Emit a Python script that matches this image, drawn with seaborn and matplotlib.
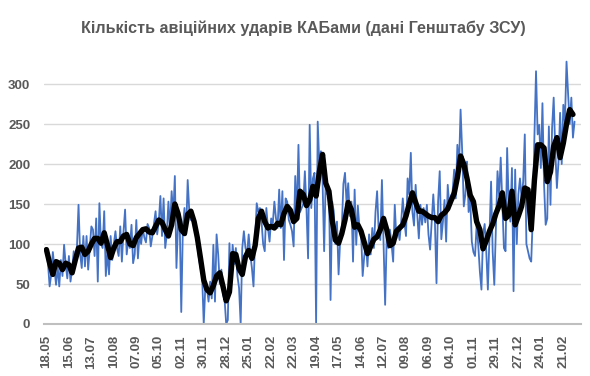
import pandas as pd
import matplotlib
matplotlib.use("Agg")
import matplotlib.pyplot as plt
import matplotlib.dates as mdates
import seaborn as sns

title = "Кількість авіційних ударів КАБами (дані Генштабу ЗСУ)"
start = pd.Timestamp("2024-05-18")

# daily KAB strikes, every 2nd day
strikes = [
    95, 75, 47, 62, 90, 70, 49, 72, 47, 80, 60, 99, 75, 57, 85, 53, 68, 91, 75, 95,
    149, 88, 70, 110, 72, 110, 68, 95, 122, 118, 85, 132, 53, 151, 100, 95, 141, 60, 90, 62,
    110, 80, 100, 116, 95, 85, 122, 78, 115, 143, 87, 105, 95, 124, 76, 87, 130, 82, 112, 100,
    120, 108, 102, 125, 120, 97, 110, 125, 141, 112, 128, 160, 110, 157, 95, 112, 153, 118, 166, 135,
    185, 70, 125, 132, 15, 120, 145, 112, 180, 141, 130, 137, 118, 125, 99, 82, 70, 60, 0, 47,
    45, 28, 53, 32, 99, 28, 112, 87, 50, 68, 37, 30, 0, 5, 101, 45, 99, 75, 95, 60,
    45, 0, 95, 116, 95, 87, 112, 87, 70, 47, 105, 151, 140, 145, 128, 100, 91, 145, 120, 103,
    132, 125, 153, 132, 120, 168, 120, 166, 80, 157, 153, 130, 124, 116, 97, 185, 135, 224, 140, 145,
    150, 191, 145, 82, 249, 145, 182, 189, 0, 253, 199, 216, 180, 91, 182, 162, 170, 30, 153, 141,
    100, 128, 62, 105, 120, 175, 189, 150, 176, 135, 153, 78, 168, 99, 148, 120, 115, 60, 85, 102,
    72, 112, 87, 120, 95, 140, 166, 115, 105, 180, 103, 24, 110, 95, 118, 100, 78, 149, 107, 120,
    105, 128, 157, 128, 110, 182, 162, 214, 140, 123, 174, 137, 107, 149, 124, 145, 127, 149, 112, 93,
    128, 162, 128, 51, 153, 191, 106, 128, 155, 103, 174, 145, 160, 165, 193, 157, 224, 195, 268, 216,
    147, 162, 203, 140, 157, 103, 90, 85, 124, 99, 66, 43, 112, 125, 91, 43, 112, 178, 90, 49,
    120, 191, 160, 208, 150, 95, 91, 220, 150, 128, 195, 41, 193, 100, 162, 182, 157, 178, 237, 100,
    91, 82, 78, 135, 235, 316, 237, 249, 195, 276, 175, 124, 132, 247, 149, 245, 283, 216, 170, 203,
    264, 200, 274, 253, 328, 287, 250, 283, 233, 253,
]

# thick black moving-average line, read every 4th day
trend = [
    93, 76, 62, 78, 76, 68, 76, 74, 64, 80, 95, 96, 87, 91, 100, 107, 107, 101, 114, 99,
    83, 95, 103, 103, 110, 112, 100, 98, 108, 113, 118, 119, 115, 114, 122, 130, 127, 118, 110, 124,
    150, 138, 118, 113, 137, 141, 128, 108, 82, 55, 43, 39, 48, 60, 64, 47, 29, 40, 88, 87,
    69, 62, 84, 92, 82, 98, 132, 141, 128, 120, 122, 120, 126, 124, 138, 147, 142, 128, 132, 166,
    162, 148, 155, 172, 160, 190, 212, 176, 166, 130, 105, 101, 113, 130, 152, 143, 121, 124, 116, 102,
    88, 97, 106, 109, 118, 132, 118, 98, 101, 116, 120, 124, 135, 150, 164, 152, 141, 141, 138, 135,
    133, 133, 128, 136, 139, 144, 154, 163, 183, 210, 200, 182, 161, 153, 128, 118, 94, 104, 116, 125,
    138, 148, 164, 132, 136, 166, 124, 135, 147, 170, 168, 118, 180, 224, 224, 220, 178, 190, 222, 233,
    208, 226, 250, 268, 262,
]

y_ticks = [0, 50, 100, 150, 200, 250, 300]

df = pd.DataFrame({"date": pd.date_range(start, periods=len(strikes), freq="2D"),
                   "strikes": strikes})
tr = pd.DataFrame({"date": pd.date_range(start, periods=len(trend), freq="4D"),
                   "trend": trend})

sns.set_style("white")
plt.rcParams["font.family"] = ["Liberation Sans", "DejaVu Sans"]

fig = plt.figure(figsize=(5.9, 3.76), dpi=100)
ax = fig.add_axes([0.0746, 0.1383, 0.9101, 0.7127])

sns.lineplot(data=df, x="date", y="strikes", color="#4472C4", linewidth=1.3, ax=ax)
sns.lineplot(data=tr, x="date", y="trend", color="black", linewidth=3.9, ax=ax,
             solid_joinstyle="round", solid_capstyle="round")

ax.set_xlim(start - pd.Timedelta(days=3), start + pd.Timedelta(days=666))
ax.set_ylim(0, 335)
ax.set_yticks(y_ticks)
ax.grid(axis="y", color="#D9D9D9", linewidth=1)
ax.set_axisbelow(True)

end = start + pd.Timedelta(days=666)
major = pd.date_range(start, end, freq="28D")
minor = pd.date_range(start, end, freq="7D")
ax.set_xticks(major)
ax.set_xticks(minor, minor=True)
ax.xaxis.set_major_formatter(mdates.DateFormatter("%d.%m"))
plt.setp(ax.get_xticklabels(), rotation=90)

ax.tick_params(axis="x", which="both", direction="in", length=4, width=1,
               color="#BFBFBF", pad=8, labelsize=9.5, labelcolor="#595959")
ax.tick_params(axis="y", length=0, pad=10, labelsize=9.5, labelcolor="#595959")
for lbl in ax.get_xticklabels() + ax.get_yticklabels():
    lbl.set_fontweight("bold")

for s in ["top", "right", "left"]:
    ax.spines[s].set_visible(False)
ax.spines["bottom"].set_color("#BFBFBF")
ax.spines["bottom"].set_linewidth(1.5)
ax.set_xlabel("")
ax.set_ylabel("")

fig.text(0.514, 0.926, title, ha="center", va="center", fontsize=11.6,
         fontweight="bold", color="#595959")

fig.savefig("out.png", dpi=100)
